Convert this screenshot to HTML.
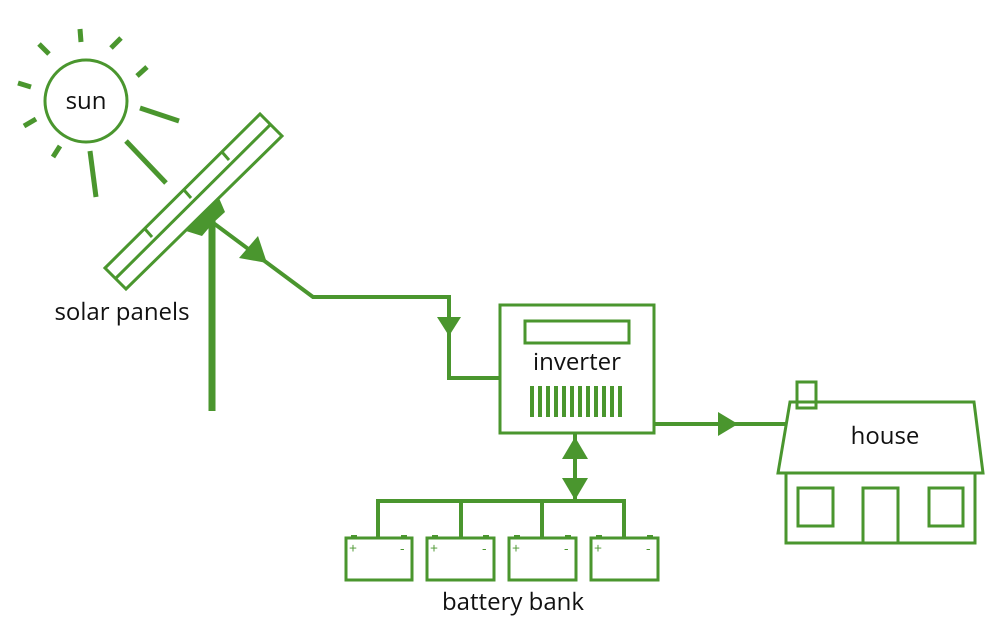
<!DOCTYPE html>
<html><head><meta charset="utf-8"><style>
html,body{margin:0;padding:0;background:#fff;}
svg{display:block}
text{font-family:"Open Sans","Liberation Sans","DejaVu Sans",sans-serif;font-size:24px;fill:#111;}
</style></head><body>
<svg width="1000" height="640" viewBox="0 0 1000 640" xmlns="http://www.w3.org/2000/svg">
<g stroke="#4a962e" fill="none" stroke-width="3">
 <circle cx="86" cy="101" r="41"/>
 <g stroke-width="5">
  <line x1="80" y1="29" x2="81" y2="42"/>
  <line x1="39" y1="44" x2="49" y2="54"/>
  <line x1="111" y1="48" x2="121" y2="38"/>
  <line x1="137" y1="76" x2="147" y2="67"/>
  <line x1="18" y1="83" x2="31" y2="87"/>
  <line x1="24" y1="126" x2="36" y2="119"/>
  <line x1="53" y1="157" x2="60" y2="146"/>
  <line x1="90" y1="151" x2="96" y2="197"/>
  <line x1="126" y1="141" x2="166" y2="183"/>
  <line x1="140" y1="108" x2="179" y2="121"/>
 </g>
 <polygon points="105,268 260,114 282,136 126,289"/>
 <line x1="115" y1="279" x2="270" y2="125"/>
 <line x1="145" y1="229" x2="152" y2="237"/>
 <line x1="184" y1="190" x2="191" y2="198"/>
 <line x1="222" y1="152" x2="229" y2="160"/>
 <polygon points="186,231 219,198 225,212 213,223 202,236" fill="#4a962e" stroke="none"/>
 <line x1="212" y1="215" x2="212" y2="411" stroke-width="7"/>
 <polyline points="212,222 313,297 449,297 449,378 500,378" stroke-width="4"/>
 <polygon points="239,258 258,236 267,263" fill="#4a962e" stroke="none"/>
 <polygon points="437,317 461,317 449,336" fill="#4a962e" stroke="none"/>
 <rect x="500" y="305" width="154" height="128"/>
 <rect x="525" y="321" width="104" height="22"/>
 <g stroke-width="4">
  <line x1="532" y1="386" x2="532" y2="417"/><line x1="540" y1="386" x2="540" y2="417"/>
  <line x1="548" y1="386" x2="548" y2="417"/><line x1="556" y1="386" x2="556" y2="417"/>
  <line x1="564" y1="386" x2="564" y2="417"/><line x1="572" y1="386" x2="572" y2="417"/>
  <line x1="580" y1="386" x2="580" y2="417"/><line x1="588" y1="386" x2="588" y2="417"/>
  <line x1="596" y1="386" x2="596" y2="417"/><line x1="604" y1="386" x2="604" y2="417"/>
  <line x1="612" y1="386" x2="612" y2="417"/><line x1="620" y1="386" x2="620" y2="417"/>
 </g>
 <line x1="654" y1="424" x2="786" y2="424" stroke-width="4"/>
 <polygon points="718,412 718,436 738,424" fill="#4a962e" stroke="none"/>
 <line x1="575" y1="433" x2="575" y2="501" stroke-width="4"/>
 <polygon points="562,459 588,459 575,437" fill="#4a962e" stroke="none"/>
 <polygon points="562,478 588,478 575,500" fill="#4a962e" stroke="none"/>
 <polyline points="378,538 378,501 624,501 624,538" stroke-width="4"/>
 <line x1="461" y1="501" x2="461" y2="538" stroke-width="4"/>
 <line x1="542" y1="501" x2="542" y2="538" stroke-width="4"/>
 <g>
  <rect x="346" y="538" width="66" height="42"/><rect x="427" y="538" width="67" height="42"/>
  <rect x="509" y="538" width="67" height="42"/><rect x="591" y="538" width="67" height="42"/>
 </g>
 <g fill="#4a962e" stroke="none">
  <rect x="351" y="535" width="6" height="4"/><rect x="401" y="535" width="6" height="4"/>
  <rect x="432" y="535" width="6" height="4"/><rect x="483" y="535" width="6" height="4"/>
  <rect x="514" y="535" width="6" height="4"/><rect x="565" y="535" width="6" height="4"/>
  <rect x="596" y="535" width="6" height="4"/><rect x="647" y="535" width="6" height="4"/>
 </g>
 <polygon points="790,402 974,402 983,473 778,473"/>
 <rect x="797" y="382" width="19" height="26"/>
 <rect x="786" y="473" width="189" height="70"/>
 <rect x="798" y="488" width="35" height="38"/>
 <rect x="929" y="488" width="34" height="38"/>
 <rect x="863" y="488" width="35" height="55"/>
</g>
<g>
 <text x="349" y="553" style="font-size:14px;fill:#4a962e">+</text><text x="400" y="553" style="font-size:14px;fill:#4a962e">-</text>
 <text x="430" y="553" style="font-size:14px;fill:#4a962e">+</text><text x="482" y="553" style="font-size:14px;fill:#4a962e">-</text>
 <text x="512" y="553" style="font-size:14px;fill:#4a962e">+</text><text x="564" y="553" style="font-size:14px;fill:#4a962e">-</text>
 <text x="594" y="553" style="font-size:14px;fill:#4a962e">+</text><text x="646" y="553" style="font-size:14px;fill:#4a962e">-</text>
</g>
<text x="86" y="109" text-anchor="middle">sun</text>
<text x="122" y="320" text-anchor="middle">solar panels</text>
<text x="577" y="370" text-anchor="middle">inverter</text>
<text x="885" y="444" text-anchor="middle">house</text>
<text x="513" y="610" text-anchor="middle">battery bank</text>
</svg>
</body></html>
